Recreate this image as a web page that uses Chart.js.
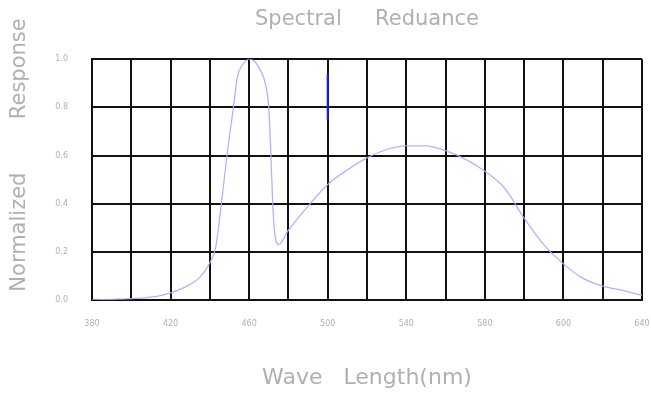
<!DOCTYPE html>
<html>
<head>
<meta charset="utf-8">
<script src="https://cdn.jsdelivr.net/npm/chart.js@4"></script>
<style>
html,body{margin:0;padding:0;background:#fff;}
canvas{display:block;}
</style>
</head>
<body>
<canvas id="c" width="651" height="395"></canvas>
<script>
// Wavelength (nm) and normalized response
const wavelengths = [380,390,400,410,420,430,435,440,443,446,449,452,454,457,460,465,469,470,471,472,473,475,480,490,500,510,520,530,540,550,560,570,580,590,600,610,620,630,640,650,660];
const response    = [0.0,0.003,0.006,0.012,0.03,0.065,0.095,0.155,0.22,0.41,0.62,0.80,0.925,0.98,1.0,0.965,0.87,0.80,0.62,0.40,0.28,0.23,0.29,0.39,0.48,0.54,0.59,0.625,0.64,0.64,0.62,0.585,0.535,0.465,0.34,0.23,0.15,0.09,0.058,0.04,0.02];
// short blue marker segment at 500 nm
const markerX = [500,500];
const markerY = [0.75,0.94];
// tick labels as printed on the reference
const xTickValues = [380,420,460,500,540,580,620,660];
const xTickLabels = ['380','420','460','500','540','580','600','640'];
const yTickValues = [0.0,0.2,0.4,0.6,0.8,1.0];
const yTitle = 'Normalized        Response';

const curve = wavelengths.map((w,i)=>({x:w,y:response[i]}));
const marker = markerX.map((w,i)=>({x:w,y:markerY[i]}));

const gray = '#b0b0b0';
const yTitlePlugin = {
  id: 'yTitle',
  afterDraw(chart) {
    const ctx = chart.ctx;
    ctx.save();
    ctx.translate(20, 155);
    ctx.rotate(-Math.PI / 2);
    ctx.fillStyle = gray;
    ctx.font = '21px "DejaVu Sans"';
    ctx.textAlign = 'center';
    ctx.textBaseline = 'middle';
    ctx.fillText(yTitle, 0, 0);
    ctx.restore();
  }
};

new Chart(document.getElementById('c'), {
  type: 'line',
  data: {
    datasets: [
      {data: curve, borderColor: 'rgba(170,170,255,0.9)', borderWidth: 1.3, pointRadius: 0, cubicInterpolationMode: 'monotone', fill: false},
      {data: marker, borderColor: '#1a1aff', borderWidth: 2, pointRadius: 0, fill: false}
    ]
  },
  plugins: [yTitlePlugin],
  options: {
    responsive: false,
    animation: false,
    layout: {padding: {left: 0, right: 9, top: 0, bottom: 0}},
    plugins: {
      legend: {display: false},
      tooltip: {enabled: false},
      title: {
        display: true,
        fullSize: false,
        text: 'Spectral     Reduance',
        color: gray,
        font: {family: 'DejaVu Sans', size: 21, weight: 'normal'},
        padding: {top: 7, bottom: 27}
      }
    },
    scales: {
      x: {
        type: 'linear', min: 380, max: 660,
        afterBuildTicks: s => { s.ticks = []; for (let v = 380; v <= 660; v += 20) s.ticks.push({value: v}); },
        afterFit: s => { s.height = 95; s.paddingLeft = 0; s.paddingRight = 0; },
        ticks: {
          autoSkip: false, maxRotation: 0, padding: 19,
          color: gray, font: {family: 'DejaVu Sans', size: 8},
          callback: v => { const i = xTickValues.indexOf(v); return i >= 0 ? xTickLabels[i] : ''; }
        },
        grid: {color: '#111', lineWidth: 2, drawTicks: false},
        border: {color: '#111', width: 2},
        title: {display: true, text: 'Wave   Length(nm)', color: gray, font: {family: 'DejaVu Sans', size: 22}, padding: {top: 0, bottom: 4}}
      },
      y: {
        min: 0, max: 1,
        afterBuildTicks: s => { s.ticks = yTickValues.map(v => ({value: v})); },
        afterFit: s => { s.width = 92; },
        ticks: {
          padding: 24, color: gray, font: {family: 'DejaVu Sans', size: 8},
          callback: v => Number(v).toFixed(1)
        },
        grid: {color: '#111', lineWidth: 2, drawTicks: false},
        border: {color: '#111', width: 2},
        title: {display: false}
      }
    }
  }
});
</script>
</body>
</html>
